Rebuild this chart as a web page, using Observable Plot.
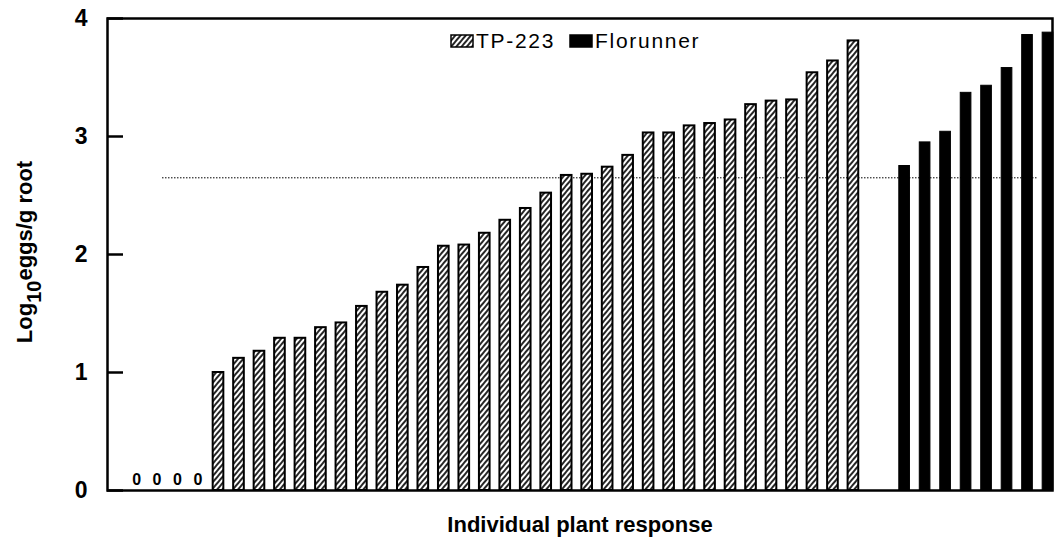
<!DOCTYPE html>
<html><head><meta charset="utf-8">
<script src="https://cdn.jsdelivr.net/npm/d3@7"></script>
<script src="https://cdn.jsdelivr.net/npm/@observablehq/plot@0.6"></script>
<style>
body{margin:0;background:#fff;font-family:"Liberation Sans",Arial,sans-serif;}
#wrap{position:relative;width:1062px;height:547px;}
#legend{position:absolute;left:450px;top:29px;display:flex;align-items:center;font-size:21px;letter-spacing:1.7px;color:#000;font-family:"Liberation Sans",Arial,sans-serif;}
#legend .item{display:flex;align-items:center;margin-right:14px;}
#legend svg{display:block;margin-right:2px;}
</style></head><body>
<svg width="0" height="0" style="position:absolute"><defs>
<pattern id="hatch" width="4" height="4" patternUnits="userSpaceOnUse" patternTransform="rotate(40)">
<rect width="4" height="4" fill="#fff"/><line x1="1" y1="0" x2="1" y2="4" stroke="#000" stroke-width="1.7"/></pattern>
</defs></svg>
<div id="wrap"><div id="legend"></div></div>
<script>
const seriesNames = ["TP-223", "Florunner"];
const tp223 = [0,0,0,0,1.00,1.12,1.18,1.29,1.29,1.38,1.42,1.56,1.68,1.74,1.89,2.07,2.08,2.18,2.29,2.39,2.52,2.67,2.68,2.74,2.84,3.03,3.03,3.09,3.11,3.14,3.27,3.30,3.31,3.54,3.64,3.81];
const florunner = [2.75,2.95,3.04,3.37,3.43,3.58,3.86,3.88];
const threshold = 2.65;
const yTicks = [0,1,2,3,4];
const xTitle = "Individual plant response";

const W = 1062, H = 547, mL = 107, mR = 10, mT = 18, mB = 57;
const xDomain = [-1.42, 44.72];
const tickLen = 16;
const tickUnits = tickLen * (xDomain[1] - xDomain[0]) / (W - mL - mR);
const gap = 1.5; // empty space between the two groups, in bar slots
const rows = [
  ...tp223.map((v, i) => ({series: seriesNames[0], pos: i, value: v})),
  ...florunner.map((v, i) => ({series: seriesNames[1], pos: tp223.length + gap + i, value: v}))
];
const half = 0.26;

const chart = Plot.plot({
  width: W, height: H,
  marginLeft: mL, marginRight: mR, marginTop: mT, marginBottom: mB,
  style: {fontFamily: "'Liberation Sans', Arial, sans-serif", color: "#000", background: "#fff"},
  x: {type: "linear", domain: xDomain, axis: null},
  y: {domain: [0, 4]},
  marks: [
    Plot.ruleY([threshold], {insetLeft: 55, insetRight: 15, stroke: "#000", strokeWidth: 1, strokeDasharray: "1.5,1.5"}),
    Plot.rectY(rows.filter(d => d.series === seriesNames[0] && d.value > 0), {x1: d => d.pos - half, x2: d => d.pos + half, y1: 0, y2: "value", fill: "url(#hatch)", stroke: "#000", strokeWidth: 2}),
    Plot.rectY(rows.filter(d => d.series === seriesNames[1]), {x1: d => d.pos - half, x2: d => d.pos + half, y1: 0, y2: "value", fill: "#000", stroke: "#000", strokeWidth: 1}),
    Plot.text(rows.filter(d => d.value === 0), {x: "pos", y: "value", text: d => String(d.value), dy: -11, fontSize: 16, fontWeight: "bold"}),
    Plot.frame({stroke: "#000", strokeWidth: 2.5}),
    Plot.ruleY(yTicks, {y: d => d, x1: () => xDomain[0], x2: () => xDomain[0] + tickUnits, stroke: "#000", strokeWidth: 2.5}),
    Plot.axisY(yTicks, {tickSize: 0, tickPadding: 20, tickFormat: "d", fontSize: 23, fontWeight: "bold", label: null}),
    Plot.text([xTitle], {text: d => d, frameAnchor: "bottom", dy: 41, fontSize: 22, fontWeight: "bold"})
  ]
});

// y-axis title with subscript
const svg = d3.select(chart);
const t = svg.append("text")
  .attr("transform", "translate(32,252) rotate(-90)")
  .attr("text-anchor", "middle")
  .attr("font-size", 22)
  .attr("font-weight", "bold")
  .attr("fill", "#000");
t.append("tspan").text("Log");
t.append("tspan").attr("font-size", 20).attr("dy", 9).text("10");
t.append("tspan").attr("dy", -9).text("eggs/g root");

document.getElementById("wrap").prepend(chart);

// legend
const legend = d3.select("#legend");
seriesNames.forEach((name, i) => {
  const item = legend.append("div").attr("class", "item");
  const s = item.append("svg").attr("width", 24).attr("height", 14);
  s.append("rect").attr("x", 1).attr("y", 1).attr("width", 22).attr("height", 12)
    .attr("fill", i === 0 ? "url(#hatch)" : "#000").attr("stroke", "#000").attr("stroke-width", 1.5);
  item.append("span").text(name);
});
</script>
</body></html>
